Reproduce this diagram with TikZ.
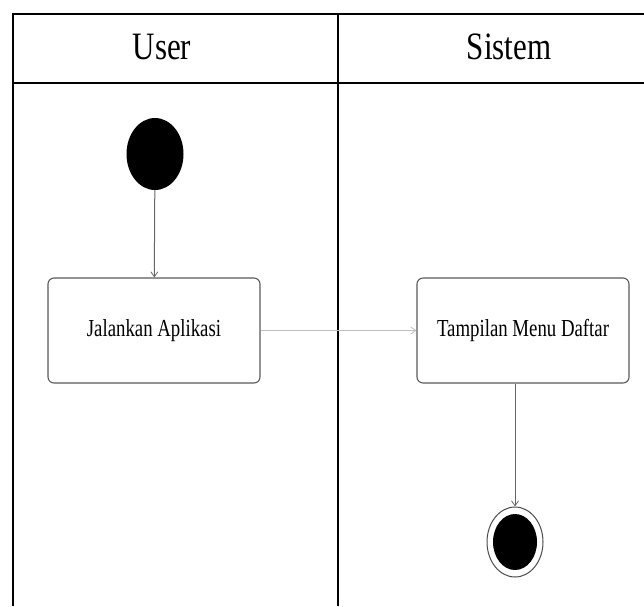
\documentclass[tikz,border=0pt]{standalone}
\usepackage{fontspec}
\setmainfont{Liberation Serif}
\usetikzlibrary{arrows.meta,shapes.geometric}
\begin{document}
\begin{tikzpicture}[x=1pt,y=-1pt,
  lane/.style={line width=2.6pt,black},
  act/.style={draw=black!65,line width=1.1pt,rounded corners=6pt,fill=white},
  flow/.style={draw=black!60,line width=1pt,-{Straight Barb[length=5pt,width=7pt,line width=0.8pt]}},
  lanetitle/.style={font=\fontsize{31}{31}\selectfont},
  acttext/.style={font=\fontsize{18.8}{19}\selectfont}]
\useasboundingbox (0,0) rectangle (644,606);
% swimlane frame
\draw[lane] (644,14) -- (13,14) -- (13,606);
\draw[lane] (13,83) -- (644,83);
\draw[lane] (338,14) -- (338,606);
\node[lanetitle] (hUser) at (162,47) {\scalebox{1}[1.25]{User}};
\node[lanetitle] (hSistem) at (509,47) {\scalebox{1}[1.25]{Sistem}};
% start and end
\node[ellipse,fill=black,minimum width=57pt,minimum height=72pt,inner sep=0pt] (start) at (155,154) {};
\node[ellipse,draw=black!70,line width=1pt,fill=white,minimum width=56pt,minimum height=70pt,inner sep=0pt] (stop) at (515,542) {};
\node[ellipse,fill=black,minimum width=44pt,minimum height=56pt,inner sep=0pt] (stopdot) at (stop.center) {};
% activities
\node[act,minimum width=212pt,minimum height=105pt] (run) at (154,330.5) {};
\node[acttext] (runlbl) at (run.center) {\scalebox{1}[1.3]{Jalankan Aplikasi}};
\node[act,minimum width=212pt,minimum height=105pt] (menu) at (523,330.5) {};
\node[acttext] (menulbl) at (menu.center) {\scalebox{1}[1.3]{Tampilan Menu Daftar}};
% transitions
\draw[flow] (start) -- (run);
\draw[flow,draw=black!25] (run) -- (menu);
\draw[flow] (menu.south -| stop.north) -- (stop);
\end{tikzpicture}
\end{document}
